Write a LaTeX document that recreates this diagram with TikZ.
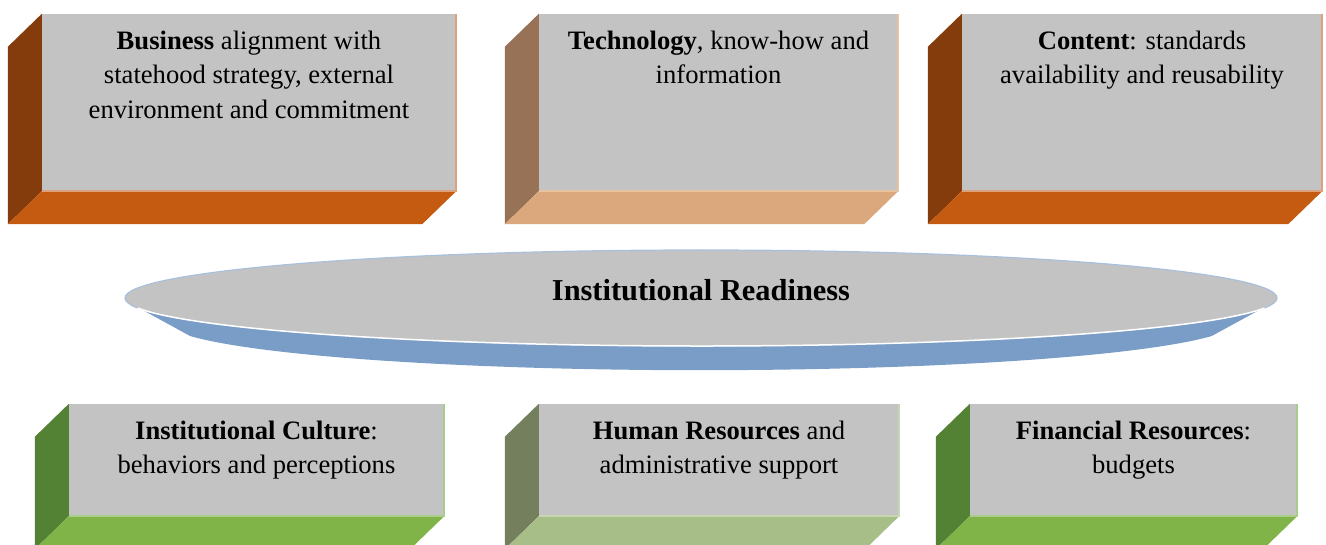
\documentclass[tikz,border=0pt]{standalone}
\usepackage{fontspec}
\setmainfont{Liberation Serif}
\usetikzlibrary{calc, positioning, shapes.geometric}

\definecolor{facegrey}{HTML}{C3C3C3}
\definecolor{orangeside}{HTML}{843C0C}
\definecolor{orangebottom}{HTML}{C55A11}
\definecolor{orangerim}{HTML}{DDA27C}
\definecolor{tanside}{HTML}{977257}
\definecolor{tanbottom}{HTML}{DBA87D}
\definecolor{tanrim}{HTML}{E8C3A2}
\definecolor{greenside}{HTML}{548235}
\definecolor{greenbottom}{HTML}{80B448}
\definecolor{greenrim}{HTML}{A9CC8A}
\definecolor{oliveside}{HTML}{74805D}
\definecolor{olivebottom}{HTML}{A8BE89}
\definecolor{oliverim}{HTML}{C8D7B2}
\definecolor{discblue}{HTML}{7A9DC8}
\definecolor{discrim}{HTML}{A9C0DC}

\begin{document}
\begin{tikzpicture}[x=1pt, y=-1pt,
    face/.style={fill=facegrey, inner sep=0pt, minimum height=177pt},
    boxtext/.style={align=center, inner sep=0pt, font=\fontsize{26.6}{34.5}\selectfont},
    disc/.style={ellipse, draw=discrim, line width=1.2pt, fill=facegrey, inner sep=0pt,
                 minimum width=1152pt, minimum height=96pt},
    title/.style={inner sep=0pt, font=\fontsize{30.4}{36}\selectfont\bfseries}]
    \useasboundingbox (0,0) rectangle (1326,545);

    % front faces
    \node[face, minimum width=414pt] (business) at (249,102.5) {};
    \node[face, minimum width=359pt] (technology) at (718.5,102.5) {};
    \node[face, minimum width=360pt] (content) at (1142,102.5) {};
    \node[face, minimum width=375pt, minimum height=112pt] (culture) at (256.5,460) {};
    \node[face, minimum width=360pt, minimum height=112pt] (human) at (719,460) {};
    \node[face, minimum width=327pt, minimum height=112pt] (financial) at (1133.5,460) {};

    % side and bottom faces
    \foreach \n/\s/\b/\r in {business/orangeside/orangebottom/orangerim,
                             technology/tanside/tanbottom/tanrim,
                             content/orangeside/orangebottom/orangerim,
                             culture/greenside/greenbottom/greenrim,
                             human/oliveside/olivebottom/oliverim,
                             financial/greenside/greenbottom/greenrim} {
        \fill[\s] (\n.north west) -- ++(-34,33) -- ($(\n.south west)+(-34,33)$) -- (\n.south west) -- cycle;
        \fill[\b] (\n.south west) -- (\n.south east) -- ++(-34,33) -- ($(\n.south west)+(-34,33)$) -- cycle;
        \draw[\r, line width=2pt] (\n.north east) -- (\n.south east) -- (\n.south west);
    }

    % texts
    \node[boxtext, below=11pt of business.north] (businesstext)
        {\strut\textbf{Business} alignment with\\statehood strategy, external\\environment and commitment};
    \node[boxtext, below=11pt of technology.north] (technologytext)
        {\strut\textbf{Technology}, know-how and\\information};
    \node[boxtext, below=11pt of content.north] (contenttext)
        {\strut\textbf{Content}: standards\\availability and reusability};
    \node[boxtext, below=11pt of culture.north] (culturetext)
        {\strut\textbf{Institutional Culture}:\\behaviors and perceptions};
    \node[boxtext, below=11pt of human.north] (humantext)
        {\strut\textbf{Human Resources} and\\administrative support};
    \node[boxtext, below=11pt of financial.north] (financialtext)
        {\strut\textbf{Financial Resources}:\\budgets};

    % the disc in the middle
    \fill[discblue] (128,302) -- (190,336)
        arc[start angle=162.4, end angle=17.6, x radius=536, y radius=49]
        -- (1274,302) -- cycle;
    \node[disc] (ready) at (701,298) {};
    \draw[white, line width=1.5pt] (ready.center) ++(12:576 and 48)
        arc[start angle=12, end angle=168, x radius=576, y radius=48];
    \node[title, anchor=base] (readytext) at (701,301) {Institutional Readiness};
\end{tikzpicture}
\end{document}
